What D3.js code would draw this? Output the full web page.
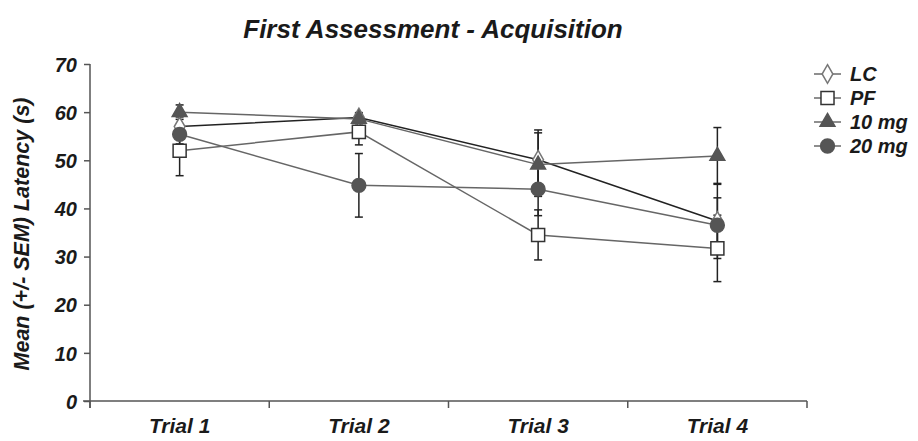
<!DOCTYPE html>
<html>
<head>
<meta charset="utf-8">
<script src="https://cdn.jsdelivr.net/npm/d3@7"></script>
<style>
  body { margin: 0; background: #fff; }
  text { font-family: "Liberation Sans", Arial, sans-serif; font-weight: bold; font-style: italic; }
</style>
</head>
<body>
<div id="chart"></div>
<script>
const trials = ["Trial 1", "Trial 2", "Trial 3", "Trial 4"];
const groups = ["LC", "PF", "10 mg", "20 mg"];
const yTicks = [0, 10, 20, 30, 40, 50, 60, 70];

// means and SEM per group, one value per trial
const lcMean = [57.0, 58.9, 50.1, 37.4];
const lcSem = [2.0, 1.0, 6.2, 7.8];
const pfMean = [52.0, 55.9, 34.5, 31.7];
const pfSem = [5.2, 2.7, 5.2, 6.9];
const mg10Mean = [60.0, 58.6, 49.1, 50.9];
const mg10Sem = [1.5, 1.0, 6.6, 5.9];
const mg20Mean = [55.4, 44.8, 44.0, 36.5];
const mg20Sem = [2.0, 6.6, 5.5, 5.7];

const series = [
    {name: "LC", mean: lcMean, sem: lcSem, shape: "diamond", fill: "#fff", stroke: "#777", line: "#222"},
    {name: "PF", mean: pfMean, sem: pfSem, shape: "square", fill: "#fff", stroke: "#333", line: "#666"},
    {name: "10 mg", mean: mg10Mean, sem: mg10Sem, shape: "triangle", fill: "#555", stroke: "#555", line: "#666"},
    {name: "20 mg", mean: mg20Mean, sem: mg20Sem, shape: "circle", fill: "#555", stroke: "#555", line: "#666"}
];

const width = 918, height = 441;
const svg = d3.select("#chart").append("svg")
    .attr("width", width)
    .attr("height", height);

let x = d3.scaleBand().domain(trials).range([90, 807]).paddingInner(0).paddingOuter(0);
let y = d3.scaleLinear().domain([0, 70]).range([401, 64]);
const cx = d => x(d) + x.bandwidth() / 2;

// title
svg.append("text")
    .attr("x", 433).attr("y", 38)
    .attr("text-anchor", "middle")
    .attr("font-size", 26)
    .attr("fill", "#1a1a1a")
    .text("First Assessment - Acquisition");

// y axis
const yAxis = d3.axisLeft(y).tickValues(yTicks).tickSize(6).tickPadding(7);
const gy = svg.append("g").attr("transform", "translate(90,0)").call(yAxis);
gy.select(".domain").attr("stroke", "#555").attr("stroke-width", 1.5).attr("d", "M0,64V408");
gy.selectAll(".tick line").attr("stroke", "#555").attr("stroke-width", 1.5);
gy.selectAll(".tick text")
    .attr("font-size", 20).attr("fill", "#1a1a1a")
    .attr("font-family", "Liberation Sans, Arial, sans-serif")
    .attr("dy", "0.36em");

svg.append("text")
    .attr("transform", "translate(29,234) rotate(-90)")
    .attr("text-anchor", "middle")
    .attr("font-size", 21.5)
    .attr("fill", "#1a1a1a")
    .text("Mean (+/- SEM) Latency (s)");

// x axis with ticks at band edges
const gx = svg.append("g").attr("transform", "translate(0,401)");
gx.append("line").attr("x1", 83).attr("x2", 807).attr("stroke", "#555").attr("stroke-width", 1.5);
const edges = trials.map(t => x(t)).concat([x(trials[3]) + x.bandwidth()]);
gx.selectAll(".edge").data(edges).enter().append("line")
    .attr("x1", d => d).attr("x2", d => d)
    .attr("y1", 0).attr("y2", 7)
    .attr("stroke", "#555").attr("stroke-width", 1.5);
gx.selectAll(".lbl").data(trials).enter().append("text")
    .attr("x", d => cx(d)).attr("y", 32)
    .attr("text-anchor", "middle")
    .attr("font-size", 21)
    .attr("fill", "#1a1a1a")
    .text(d => d);

const symType = {diamond: d3.symbolDiamond, square: d3.symbolSquare, triangle: d3.symbolTriangle, circle: d3.symbolCircle};
const symSize = {diamond: 100, square: 170, triangle: 95, circle: 150};
function sym(shape) { return d3.symbol().type(symType[shape]).size(symSize[shape])(); }

const line = d3.line().x((d, i) => cx(trials[i])).y(d => y(d));

// error bars
const capW = 4;
series.forEach(s => {
    const g = svg.append("g");
    s.mean.forEach((m, i) => {
        const px = cx(trials[i]);
        const lo = y(m - s.sem[i]), hi = y(m + s.sem[i]);
        g.append("line").attr("x1", px).attr("x2", px).attr("y1", lo).attr("y2", hi)
            .attr("stroke", "#222").attr("stroke-width", 1.5);
        [lo, hi].forEach(v => g.append("line")
            .attr("x1", px - capW).attr("x2", px + capW).attr("y1", v).attr("y2", v)
            .attr("stroke", "#222").attr("stroke-width", 1.5));
    });
});

// lines
series.forEach(s => {
    svg.append("path").datum(s.mean)
        .attr("d", line)
        .attr("fill", "none")
        .attr("stroke", s.line)
        .attr("stroke-width", 1.5);
});

// markers
series.forEach(s => {
    svg.append("g").selectAll("path").data(s.mean).enter().append("path")
        .attr("d", sym(s.shape))
        .attr("transform", (d, i) => "translate(" + cx(trials[i]) + "," + y(d) + ")")
        .attr("fill", s.fill)
        .attr("stroke", s.stroke)
        .attr("stroke-width", 1.5);
});

// legend
const leg = svg.append("g");
series.forEach((s, i) => {
    const ly = 74 + i * 24;
    leg.append("line").attr("x1", 814).attr("x2", 841).attr("y1", ly).attr("y2", ly)
        .attr("stroke", "#444").attr("stroke-width", 1.2);
    leg.append("path").attr("d", sym(s.shape))
        .attr("transform", "translate(827.5," + ly + ")")
        .attr("fill", s.fill).attr("stroke", s.stroke).attr("stroke-width", 1.5);
    leg.append("text").attr("x", 850).attr("y", ly).attr("dy", "0.36em")
        .attr("font-size", 20)
        .attr("fill", "#1a1a1a")
        .text(groups[i]);
});
</script>
</body>
</html>
